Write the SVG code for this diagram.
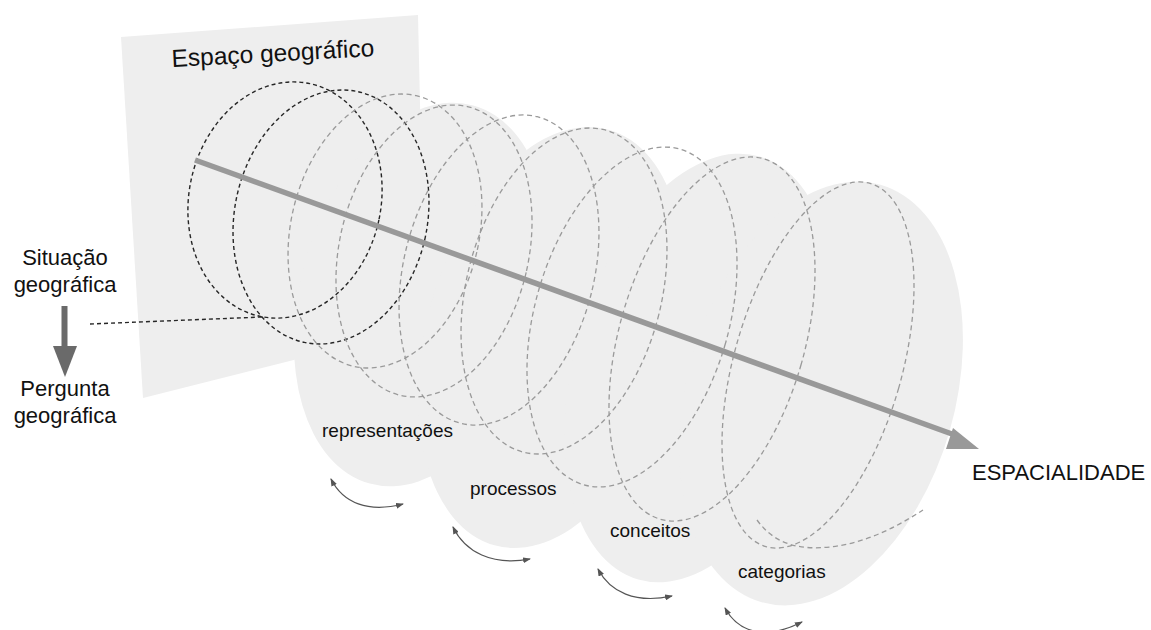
<svg xmlns="http://www.w3.org/2000/svg" width="1151" height="630" viewBox="0 0 1151 630">
  <style>
    .bg { fill: #ffffff; }
    .area { fill: #eeeeee; stroke: none; }
    .ring-dark { fill: none; stroke: #262626; stroke-width: 1.4; stroke-dasharray: 4 3; }
    .ring { fill: none; stroke: #9a9a9a; stroke-width: 1.3; stroke-dasharray: 5 3.5; }
    .axis { fill: none; stroke: #999999; stroke-width: 5.5; }
    .axis-head { fill: #999999; }
    .label { font-family: "Liberation Sans", Arial, sans-serif; fill: #111111; }
    .loop { fill: none; stroke: #555555; stroke-width: 1.2; marker-start: url(#tip); marker-end: url(#tip); }
  </style>
  <defs>
    <marker id="tip" viewBox="0 0 8 6" refX="7" refY="3" markerWidth="8" markerHeight="6" markerUnits="userSpaceOnUse" orient="auto-start-reverse">
      <path d="M0,0 L8,3 L0,6 z" fill="#555555"/>
    </marker>
  </defs>

  <rect class="bg" x="0" y="0" width="1151" height="630"/>

  <!-- plane and the cloud of rings behind it -->
  <g id="area">
    <polygon class="area" points="121,37 418,15 425,327 143,398"/>
    <ellipse class="area" cx="421.5" cy="294.5" rx="121" ry="196" transform="rotate(15.3 421.5 294.5)"/>
    <ellipse class="area" cx="551.5" cy="337.5" rx="125" ry="215.5" transform="rotate(15.3 551.5 337.5)"/>
    <ellipse class="area" cx="699" cy="368" rx="125" ry="220" transform="rotate(16 699 368)"/>
    <ellipse class="area" cx="821" cy="393.5" rx="134" ry="217" transform="rotate(15.9 821 393.5)"/>
  </g>

  <!-- spiral of rings -->
  <g id="rings">
    <path class="ring-dark" d="M90,324 L262,317"/>
    <ellipse class="ring-dark" cx="285" cy="200" rx="96" ry="119" transform="rotate(12 285 200)"/>
    <ellipse class="ring-dark" cx="331" cy="217" rx="96.4" ry="128.2" transform="rotate(12 331 217)"/>
    <ellipse class="ring" cx="385" cy="231" rx="94.2" ry="138.9" transform="rotate(13 385 231)"/>
    <ellipse class="ring" cx="434" cy="251" rx="94.6" ry="148.2" transform="rotate(13 434 251)"/>
    <ellipse class="ring" cx="499" cy="270" rx="95.2" ry="158" transform="rotate(14 499 270)"/>
    <ellipse class="ring" cx="564" cy="291" rx="97.7" ry="166.2" transform="rotate(14 564 291)"/>
    <ellipse class="ring" cx="632" cy="317" rx="97.1" ry="174.6" transform="rotate(16 632 317)"/>
    <ellipse class="ring" cx="712" cy="339" rx="92.7" ry="187.5" transform="rotate(16 712 339)"/>
    <ellipse class="ring" cx="818" cy="365" rx="83.9" ry="188.9" transform="rotate(16 818 365)"/>
    <path class="ring" d="M757,520 C775,545 800,550 830,547 C865,543 895,528 923,510"/>
  </g>

  <!-- axis of spatiality -->
  <g id="axis">
    <path class="axis" d="M195,160 L952,434"/>
    <polygon class="axis-head" points="953,428 946,449 979,449"/>
  </g>

  <g id="title">
    <text class="label" x="172" y="67" font-size="24.5" transform="rotate(-3.1 172 67)">Espaço geográfico</text>
  </g>

  <g id="espacialidade">
    <text class="label" x="972" y="480" font-size="22">ESPACIALIDADE</text>
  </g>

  <g id="situacao">
    <text class="label" x="65" y="265" font-size="22" text-anchor="middle">Situação</text>
    <text class="label" x="65" y="292" font-size="22" text-anchor="middle">geográfica</text>
  </g>

  <g id="situacao-to-pergunta">
    <rect x="61.5" y="306" width="6" height="41" fill="#6a6a6a"/>
    <polygon points="53,346 77,346 65,377" fill="#6a6a6a"/>
  </g>

  <g id="pergunta">
    <text class="label" x="65" y="396" font-size="22" text-anchor="middle">Pergunta</text>
    <text class="label" x="65" y="423" font-size="22" text-anchor="middle">geográfica</text>
  </g>

  <g id="representacoes">
    <text class="label" x="322" y="437" font-size="19">representações</text>
  </g>
  <g id="processos">
    <text class="label" x="470" y="495" font-size="19">processos</text>
  </g>
  <g id="conceitos">
    <text class="label" x="610" y="537" font-size="19">conceitos</text>
  </g>
  <g id="categorias">
    <text class="label" x="738" y="578" font-size="19">categorias</text>
  </g>

  <!-- small two-way turning arrows under each lobe -->
  <g id="loops">
    <path class="loop" d="M331,479 C343,503 368,513 403,504"/>
    <path class="loop" d="M453,527 C465,552 492,566 530,559"/>
    <path class="loop" d="M598,569 C610,592 635,604 672,596"/>
    <path class="loop" d="M725,608 C737,630 762,642 802,622"/>
  </g>
</svg>
